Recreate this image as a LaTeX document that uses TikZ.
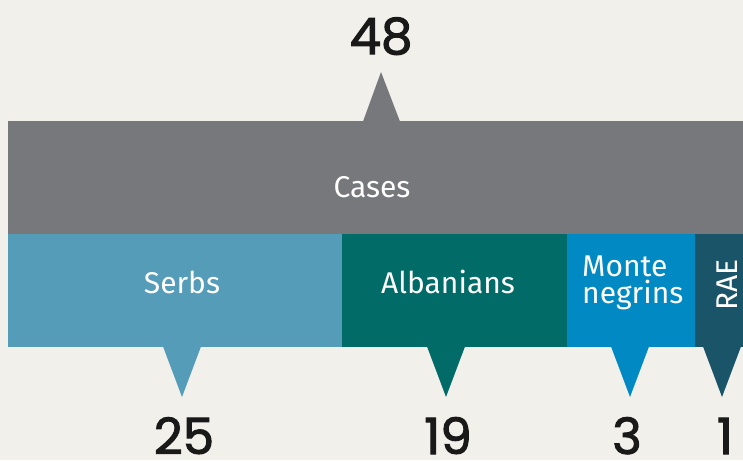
\documentclass[tikz,border=0pt]{standalone}
\usepackage{fontspec}
\setmainfont{Fira Sans}
\newfontfamily\numfont[FakeBold=2]{Poppins}
\begin{document}
\definecolor{paper}{HTML}{F2F0EB}
\definecolor{casegray}{HTML}{77787B}
\definecolor{serbblue}{HTML}{559CB9}
\definecolor{albteal}{HTML}{006B67}
\definecolor{montblue}{HTML}{0089C3}
\definecolor{raeblue}{HTML}{1A5468}
\begin{tikzpicture}[x=1pt,y=-1pt,
  bar/.style={fill=#1,draw=none},
  lbl/.style={text=white,font=\fontsize{30}{27}\selectfont,inner sep=0pt,anchor=base},
  num/.style={text=black!90,font=\numfont\fontsize{50}{50}\selectfont,inner sep=0pt,anchor=base}]
  \useasboundingbox (0,0) rectangle (743,460);
  \fill[paper] (0,0) rectangle (743,460);
  % total bar and pointer
  \fill[bar=casegray] (8,121) rectangle (743,234);
  \coordinate (casesTip) at (381,72);
  \fill[casegray] (363,121.5) -- (casesTip) -- (400,121.5) -- cycle;
  \node[lbl] (cases) at (372,197) {Cases};
  % breakdown bars
  \fill[bar=serbblue] (8,234) rectangle (342,347);
  \fill[bar=albteal] (342,234) rectangle (567,347);
  \fill[bar=montblue] (567,234) rectangle (695,347);
  \fill[bar=raeblue] (695,234) rectangle (743,347);
  \node[lbl] (serbs) at (182,293) {Serbs};
  \node[lbl] (alb) at (448,293) {Albanians};
  \node[lbl,anchor=base west] (mont) at (582,276) {Monte};
  \node[lbl,anchor=base west] (montb) at (582,303) {negrins};
  \node[lbl,rotate=90,anchor=base] (rae) at (737,285) {RAE};
  % pointers below
  \coordinate (serbsTip) at (182,397);
  \coordinate (albTip) at (446,397);
  \coordinate (montTip) at (630,397);
  \coordinate (raeTip) at (722,397);
  \fill[serbblue] (163,346.5) -- (serbsTip) -- (201,346.5) -- cycle;
  \fill[albteal] (427,346.5) -- (albTip) -- (465,346.5) -- cycle;
  \fill[montblue] (611,346.5) -- (montTip) -- (649,346.5) -- cycle;
  \fill[raeblue] (703,346.5) -- (raeTip) -- (741,346.5) -- cycle;
  % counts
  \node[num] (ntotal) at (381,54) {48};
  \node[num] (nserbs) at (184,454) {25};
  \node[num] (nalb) at (448,454) {19};
  \node[num] (nmont) at (627,454) {3};
  \node[num] (nrae) at (725,454) {1};
\end{tikzpicture}
\end{document}
